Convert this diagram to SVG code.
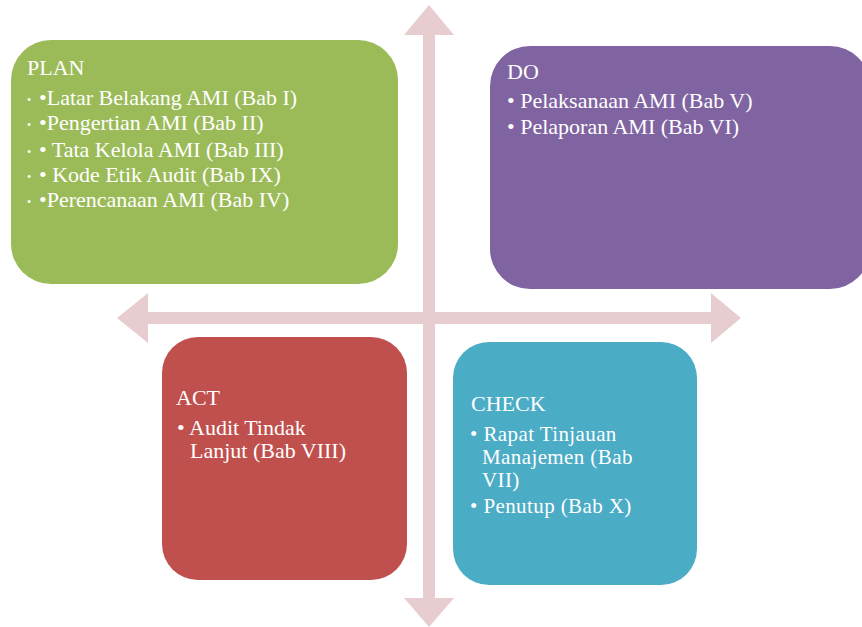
<svg xmlns="http://www.w3.org/2000/svg" width="862" height="627" viewBox="0 0 862 627">
  <style>
    text { font-family: 'Liberation Serif', 'Times New Roman', serif; font-size: 22px; fill: #ffffff; }
    .small-dot { font-size: 12px; }
    .tight { font-size: 21px; letter-spacing: 0.4px; }
    .arrow { fill: #e7cdcf; }
  </style>
  <rect width="862" height="627" fill="#ffffff"/>

  <!-- cross of double-headed arrows -->
  <g id="connectors">
    <polygon class="arrow" points="429,5 454,35 435,35 435,598 454,598 429,627 404,598 423,598 423,35 404,35"/>
    <polygon class="arrow" points="117,318 148,293 148,312 711,312 711,293 741,318 711,343 711,324 148,324 148,343"/>
  </g>

  <g id="plan">
    <rect x="11" y="40" width="387" height="244" rx="40" fill="#9bbb59"/>
    <text x="27" y="75">PLAN</text>
    <text class="small-dot" x="27" y="104">•</text><text x="39" y="105">•Latar Belakang AMI (Bab I)</text>
    <text class="small-dot" x="27" y="129">•</text><text x="39" y="130">•Pengertian AMI (Bab II)</text>
    <text class="small-dot" x="27" y="156">•</text><text x="39" y="157">• Tata Kelola AMI (Bab III)</text>
    <text class="small-dot" x="27" y="181">•</text><text x="39" y="182">• Kode Etik Audit (Bab IX)</text>
    <text class="small-dot" x="27" y="206">•</text><text x="39" y="207">•Perencanaan AMI (Bab IV)</text>
  </g>

  <g id="do">
    <rect x="490" y="46" width="380" height="243" rx="40" fill="#8064a2"/>
    <text x="507" y="79">DO</text>
    <text x="507" y="108">• Pelaksanaan AMI (Bab V)</text>
    <text x="507" y="134">• Pelaporan AMI (Bab VI)</text>
  </g>

  <g id="act">
    <rect x="162" y="337" width="245" height="243" rx="36" fill="#c0504d"/>
    <text x="176" y="405">ACT</text>
    <text x="177" y="435">• Audit Tindak<tspan x="190" y="458">Lanjut (Bab VIII)</tspan></text>
  </g>

  <g id="check">
    <rect x="453" y="342" width="244" height="243" rx="36" fill="#4bacc6"/>
    <text x="471" y="411">CHECK</text>
    <text class="tight" x="470" y="441">• Rapat Tinjauan<tspan x="482" y="464">Manajemen (Bab</tspan><tspan x="482" y="487">VII)</tspan></text>
    <text class="tight" x="470" y="513">• Penutup (Bab X)</text>
  </g>
</svg>
